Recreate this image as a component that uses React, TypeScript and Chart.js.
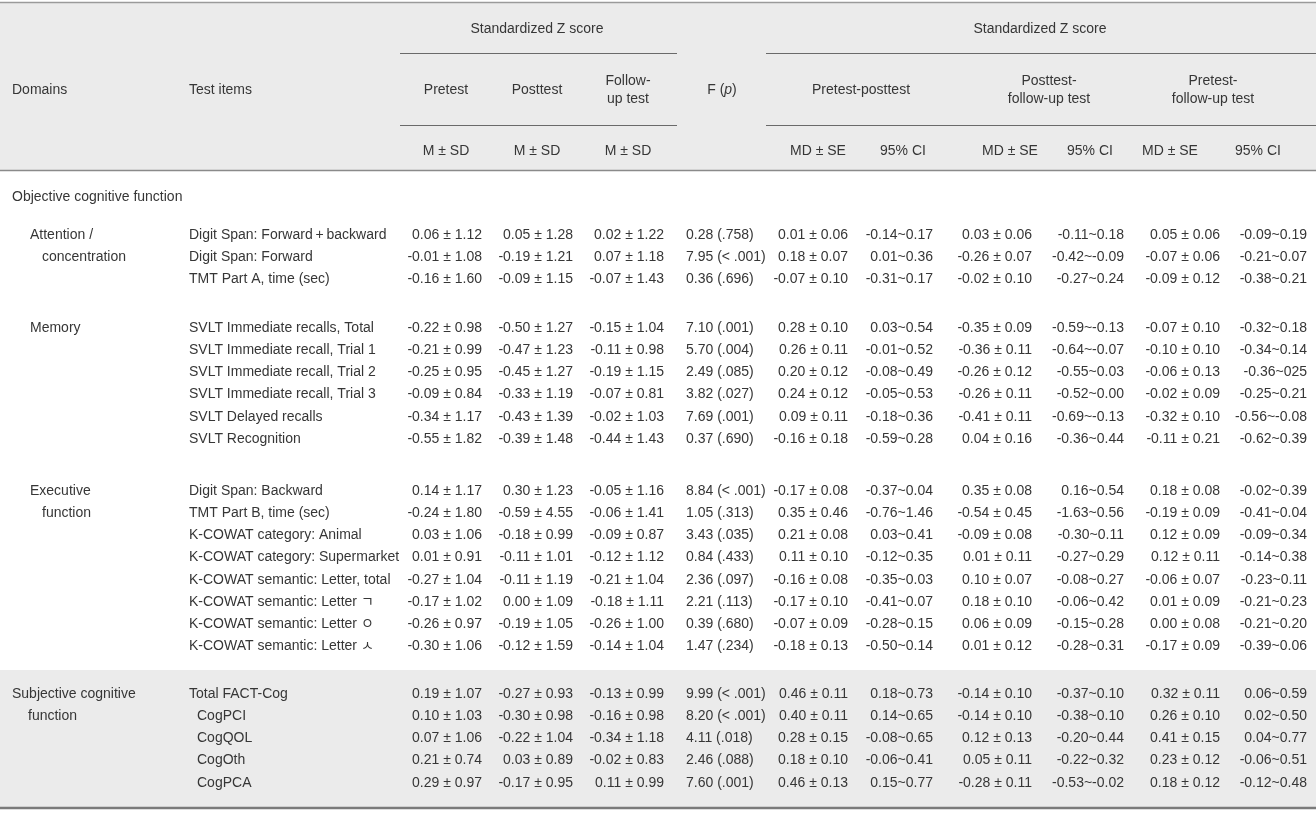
import React, { useEffect, useRef } from "react";
import { Chart, registerables } from "chart.js";

Chart.register(...registerables);

// ---------- DATA ----------
const sectionTitle = "Objective cognitive function";
const domainLabels: string[][] = [
  ["Attention /", "concentration"],
  ["Memory"],
  ["Executive", "function"],
  ["Subjective cognitive", "function"],
];
const sectionSizes = [3, 6, 8, 5];

const testItems = [
  "Digit Span: Forward\u2009+\u2009backward",
  "Digit Span: Forward",
  "TMT Part A, time (sec)",
  "SVLT Immediate recalls, Total",
  "SVLT Immediate recall, Trial 1",
  "SVLT Immediate recall, Trial 2",
  "SVLT Immediate recall, Trial 3",
  "SVLT Delayed recalls",
  "SVLT Recognition",
  "Digit Span: Backward",
  "TMT Part B, time (sec)",
  "K-COWAT category: Animal",
  "K-COWAT category: Supermarket",
  "K-COWAT semantic: Letter, total",
  "K-COWAT semantic: Letter \u3131",
  "K-COWAT semantic: Letter \u3147",
  "K-COWAT semantic: Letter \u3145",
  "Total FACT-Cog",
  "CogPCI",
  "CogQOL",
  "CogOth",
  "CogPCA",
];
const itemLevel = [0, 0, 0, 0, 0, 0, 0, 0, 0, 0, 0, 0, 0, 0, 0, 0, 0, 0, 1, 1, 1, 1];

const pretest = ["0.06 ± 1.12", "-0.01 ± 1.08", "-0.16 ± 1.60", "-0.22 ± 0.98", "-0.21 ± 0.99", "-0.25 ± 0.95", "-0.09 ± 0.84", "-0.34 ± 1.17", "-0.55 ± 1.82", "0.14 ± 1.17", "-0.24 ± 1.80", "0.03 ± 1.06", "0.01 ± 0.91", "-0.27 ± 1.04", "-0.17 ± 1.02", "-0.26 ± 0.97", "-0.30 ± 1.06", "0.19 ± 1.07", "0.10 ± 1.03", "0.07 ± 1.06", "0.21 ± 0.74", "0.29 ± 0.97"];
const posttest = ["0.05 ± 1.28", "-0.19 ± 1.21", "-0.09 ± 1.15", "-0.50 ± 1.27", "-0.47 ± 1.23", "-0.45 ± 1.27", "-0.33 ± 1.19", "-0.43 ± 1.39", "-0.39 ± 1.48", "0.30 ± 1.23", "-0.59 ± 4.55", "-0.18 ± 0.99", "-0.11 ± 1.01", "-0.11 ± 1.19", "0.00 ± 1.09", "-0.19 ± 1.05", "-0.12 ± 1.59", "-0.27 ± 0.93", "-0.30 ± 0.98", "-0.22 ± 1.04", "0.03 ± 0.89", "-0.17 ± 0.95"];
const followUp = ["0.02 ± 1.22", "0.07 ± 1.18", "-0.07 ± 1.43", "-0.15 ± 1.04", "-0.11 ± 0.98", "-0.19 ± 1.15", "-0.07 ± 0.81", "-0.02 ± 1.03", "-0.44 ± 1.43", "-0.05 ± 1.16", "-0.06 ± 1.41", "-0.09 ± 0.87", "-0.12 ± 1.12", "-0.21 ± 1.04", "-0.18 ± 1.11", "-0.26 ± 1.00", "-0.14 ± 1.04", "-0.13 ± 0.99", "-0.16 ± 0.98", "-0.34 ± 1.18", "-0.02 ± 0.83", "0.11 ± 0.99"];
const fStat = ["0.28 (.758)", "7.95 (< .001)", "0.36 (.696)", "7.10 (.001)", "5.70 (.004)", "2.49 (.085)", "3.82 (.027)", "7.69 (.001)", "0.37 (.690)", "8.84 (< .001)", "1.05 (.313)", "3.43 (.035)", "0.84 (.433)", "2.36 (.097)", "2.21 (.113)", "0.39 (.680)", "1.47 (.234)", "9.99 (< .001)", "8.20 (< .001)", "4.11 (.018)", "2.46 (.088)", "7.60 (.001)"];
const mdPrePost = ["0.01 ± 0.06", "0.18 ± 0.07", "-0.07 ± 0.10", "0.28 ± 0.10", "0.26 ± 0.11", "0.20 ± 0.12", "0.24 ± 0.12", "0.09 ± 0.11", "-0.16 ± 0.18", "-0.17 ± 0.08", "0.35 ± 0.46", "0.21 ± 0.08", "0.11 ± 0.10", "-0.16 ± 0.08", "-0.17 ± 0.10", "-0.07 ± 0.09", "-0.18 ± 0.13", "0.46 ± 0.11", "0.40 ± 0.11", "0.28 ± 0.15", "0.18 ± 0.10", "0.46 ± 0.13"];
const ciPrePost = ["-0.14~0.17", "0.01~0.36", "-0.31~0.17", "0.03~0.54", "-0.01~0.52", "-0.08~0.49", "-0.05~0.53", "-0.18~0.36", "-0.59~0.28", "-0.37~0.04", "-0.76~1.46", "0.03~0.41", "-0.12~0.35", "-0.35~0.03", "-0.41~0.07", "-0.28~0.15", "-0.50~0.14", "0.18~0.73", "0.14~0.65", "-0.08~0.65", "-0.06~0.41", "0.15~0.77"];
const mdPostFu = ["0.03 ± 0.06", "-0.26 ± 0.07", "-0.02 ± 0.10", "-0.35 ± 0.09", "-0.36 ± 0.11", "-0.26 ± 0.12", "-0.26 ± 0.11", "-0.41 ± 0.11", "0.04 ± 0.16", "0.35 ± 0.08", "-0.54 ± 0.45", "-0.09 ± 0.08", "0.01 ± 0.11", "0.10 ± 0.07", "0.18 ± 0.10", "0.06 ± 0.09", "0.01 ± 0.12", "-0.14 ± 0.10", "-0.14 ± 0.10", "0.12 ± 0.13", "0.05 ± 0.11", "-0.28 ± 0.11"];
const ciPostFu = ["-0.11~0.18", "-0.42~-0.09", "-0.27~0.24", "-0.59~-0.13", "-0.64~-0.07", "-0.55~0.03", "-0.52~0.00", "-0.69~-0.13", "-0.36~0.44", "0.16~0.54", "-1.63~0.56", "-0.30~0.11", "-0.27~0.29", "-0.08~0.27", "-0.06~0.42", "-0.15~0.28", "-0.28~0.31", "-0.37~0.10", "-0.38~0.10", "-0.20~0.44", "-0.22~0.32", "-0.53~-0.02"];
const mdPreFu = ["0.05 ± 0.06", "-0.07 ± 0.06", "-0.09 ± 0.12", "-0.07 ± 0.10", "-0.10 ± 0.10", "-0.06 ± 0.13", "-0.02 ± 0.09", "-0.32 ± 0.10", "-0.11 ± 0.21", "0.18 ± 0.08", "-0.19 ± 0.09", "0.12 ± 0.09", "0.12 ± 0.11", "-0.06 ± 0.07", "0.01 ± 0.09", "0.00 ± 0.08", "-0.17 ± 0.09", "0.32 ± 0.11", "0.26 ± 0.10", "0.41 ± 0.15", "0.23 ± 0.12", "0.18 ± 0.12"];
const ciPreFu = ["-0.09~0.19", "-0.21~0.07", "-0.38~0.21", "-0.32~0.18", "-0.34~0.14", "-0.36~025", "-0.25~0.21", "-0.56~-0.08", "-0.62~0.39", "-0.02~0.39", "-0.41~0.04", "-0.09~0.34", "-0.14~0.38", "-0.23~0.11", "-0.21~0.23", "-0.21~0.20", "-0.39~0.06", "0.06~0.59", "0.02~0.50", "0.04~0.77", "-0.06~0.51", "-0.12~0.48"];

const groupHeader = "Standardized Z score";
const scoreHeaders: string[][] = [["Pretest"], ["Posttest"], ["Follow-", "up test"]];
const diffHeaders: string[][] = [["Pretest-posttest"], ["Posttest-", "follow-up test"], ["Pretest-", "follow-up test"]];
const subHeaderMSD = "M ± SD";
const subHeaderMD = "MD ± SE";
const subHeaderCI = "95% CI";

// ---------- LAYOUT ----------
const W = 1316;
const H = 814;
const FONT = "14px 'Liberation Sans', 'Noto Sans CJK KR', sans-serif";
const TEXT = "#363636";
const BG = "#ebebeb";
const PITCH = 22.2;
const TEXT_DY = 1;
const sectionStartY = [234, 327, 490, 693];

function rowY(): number[] {
  const ys: number[] = [];
  sectionSizes.forEach((n, s) => {
    for (let i = 0; i < n; i++) ys.push(sectionStartY[s] + i * PITCH);
  });
  return ys;
}

type TextSet = {
  texts: string[];
  xs: number[];
  ys: number[];
  align: CanvasTextAlign;
};

function buildTextSets(): TextSet[] {
  const ys = rowY();
  const sets: TextSet[] = [];
  const col = (texts: string[], x: number, align: CanvasTextAlign) =>
    sets.push({ texts, xs: texts.map(() => x), ys, align });

  // body columns
  sets.push({ texts: testItems, xs: itemLevel.map((l) => (l ? 197 : 189)), ys, align: "left" });
  col(pretest, 482, "right");
  col(posttest, 573, "right");
  col(followUp, 664, "right");
  col(fStat, 686, "left");
  col(mdPrePost, 848, "right");
  col(ciPrePost, 933, "right");
  col(mdPostFu, 1032, "right");
  col(ciPostFu, 1124, "right");
  col(mdPreFu, 1220, "right");
  col(ciPreFu, 1307, "right");

  // domain labels
  const dT: string[] = [], dX: number[] = [], dY: number[] = [];
  let start = 0;
  domainLabels.forEach((lines, s) => {
    const last = s === domainLabels.length - 1;
    lines.forEach((ln, k) => {
      dT.push(ln);
      dX.push(last ? (k ? 28 : 12) : k ? 42 : 30);
      dY.push(ys[start + k]);
    });
    start += sectionSizes[s];
  });
  dT.push(sectionTitle);
  dX.push(12);
  dY.push(196);
  sets.push({ texts: dT, xs: dX, ys: dY, align: "left" });

  // header: left
  sets.push({ texts: ["Domains", "Test items"], xs: [12, 189], ys: [89, 89], align: "left" });

  // header: centered
  const hT: string[] = [], hX: number[] = [], hY: number[] = [];
  const push = (t: string, x: number, y: number) => { hT.push(t); hX.push(x); hY.push(y); };
  push(groupHeader, 537, 28);
  push(groupHeader, 1040, 28);
  const scoreCenters = [446, 537, 628];
  scoreHeaders.forEach((lines, i) => {
    lines.forEach((ln, k) => push(ln, scoreCenters[i], lines.length === 1 ? 89 : 80 + k * 18));
    push(subHeaderMSD, scoreCenters[i], 150);
  });
  const diffCenters = [861, 1049, 1213];
  const mdCenters = [818, 1010, 1170];
  const ciCenters = [903, 1090, 1258];
  diffHeaders.forEach((lines, i) => {
    lines.forEach((ln, k) => push(ln, diffCenters[i], lines.length === 1 ? 89 : 80 + k * 18));
    push(subHeaderMD, mdCenters[i], 150);
    push(subHeaderCI, ciCenters[i], 150);
  });
  sets.push({ texts: hT, xs: hX, ys: hY, align: "center" });
  return sets;
}

const tablePlugin = {
  id: "tableDraw",
  beforeDatasetsDraw(chart: any) {
    const ctx: CanvasRenderingContext2D = chart.ctx;
    const x = chart.scales.x, y = chart.scales.y;
    const X = (v: number) => x.getPixelForValue(v);
    const Y = (v: number) => y.getPixelForValue(v);
    ctx.save();
    ctx.fillStyle = "#ffffff";
    ctx.fillRect(X(0), Y(0), X(W) - X(0), Y(H) - Y(0));
    ctx.fillStyle = BG;
    ctx.fillRect(X(0), Y(3), X(W) - X(0), Y(170) - Y(3));
    ctx.fillRect(X(0), Y(670), X(W) - X(0), Y(807) - Y(670));
    const line = (x1: number, x2: number, yy: number, w: number, c: string) => {
      ctx.beginPath();
      ctx.strokeStyle = c;
      ctx.lineWidth = w;
      ctx.moveTo(X(x1), Y(yy));
      ctx.lineTo(X(x2), Y(yy));
      ctx.stroke();
    };
    line(0, W, 2.5, 1.5, "#9a9a9a");
    line(400, 677, 53.5, 1, "#6a6a6a");
    line(766, W, 53.5, 1, "#6a6a6a");
    line(400, 677, 125.5, 1, "#6a6a6a");
    line(766, W, 125.5, 1, "#6a6a6a");
    line(0, W, 170.5, 1.5, "#8a8a8a");
    line(0, W, 808, 2.5, "#7a7a7a");
    ctx.restore();
  },
  afterDatasetsDraw(chart: any) {
    const ctx: CanvasRenderingContext2D = chart.ctx;
    ctx.save();
    ctx.fillStyle = TEXT;
    ctx.textBaseline = "middle";
    ctx.font = FONT;
    chart.data.datasets.forEach((ds: any, di: number) => {
      const meta = chart.getDatasetMeta(di);
      ctx.textAlign = ds.align;
      meta.data.forEach((el: any, i: number) => {
        ctx.fillText(ds.texts[i], el.x, el.y + TEXT_DY);
      });
    });
    // F (p) header with italic p
    const xs = chart.scales.x, ys = chart.scales.y;
    const cx = xs.getPixelForValue(722), cy = ys.getPixelForValue(89) + TEXT_DY;
    ctx.textAlign = "left";
    const a = "F (", b = "p", c = ")";
    ctx.font = FONT;
    const wa = ctx.measureText(a).width, wc = ctx.measureText(c).width;
    ctx.font = "italic " + FONT;
    const wb = ctx.measureText(b).width;
    let sx = cx - (wa + wb + wc) / 2;
    ctx.font = FONT;
    ctx.fillText(a, sx, cy);
    sx += wa;
    ctx.font = "italic " + FONT;
    ctx.fillText(b, sx, cy);
    sx += wb;
    ctx.font = FONT;
    ctx.fillText(c, sx, cy);
    ctx.restore();
  },
};

export default function App() {
  const ref = useRef<HTMLCanvasElement>(null);
  useEffect(() => {
    document.body.style.margin = "0";
    const sets = buildTextSets();
    const chart = new Chart(ref.current!, {
      type: "scatter",
      data: {
        datasets: sets.map((s) => ({
          data: s.texts.map((_, i) => ({ x: s.xs[i], y: s.ys[i] })),
          texts: s.texts,
          align: s.align,
          pointRadius: 0,
          pointHoverRadius: 0,
        })) as any,
      },
      options: {
        animation: false,
        responsive: false,
        devicePixelRatio: 1,
        layout: { padding: 0 },
        events: [],
        scales: {
          x: { type: "linear", display: false, min: 0, max: W },
          y: { type: "linear", display: false, min: 0, max: H, reverse: true },
        },
        plugins: { legend: { display: false }, tooltip: { enabled: false } },
      },
      plugins: [tablePlugin],
    });
    return () => chart.destroy();
  }, []);
  return <canvas ref={ref} width={W} height={H} style={{ display: "block" }} />;
}
